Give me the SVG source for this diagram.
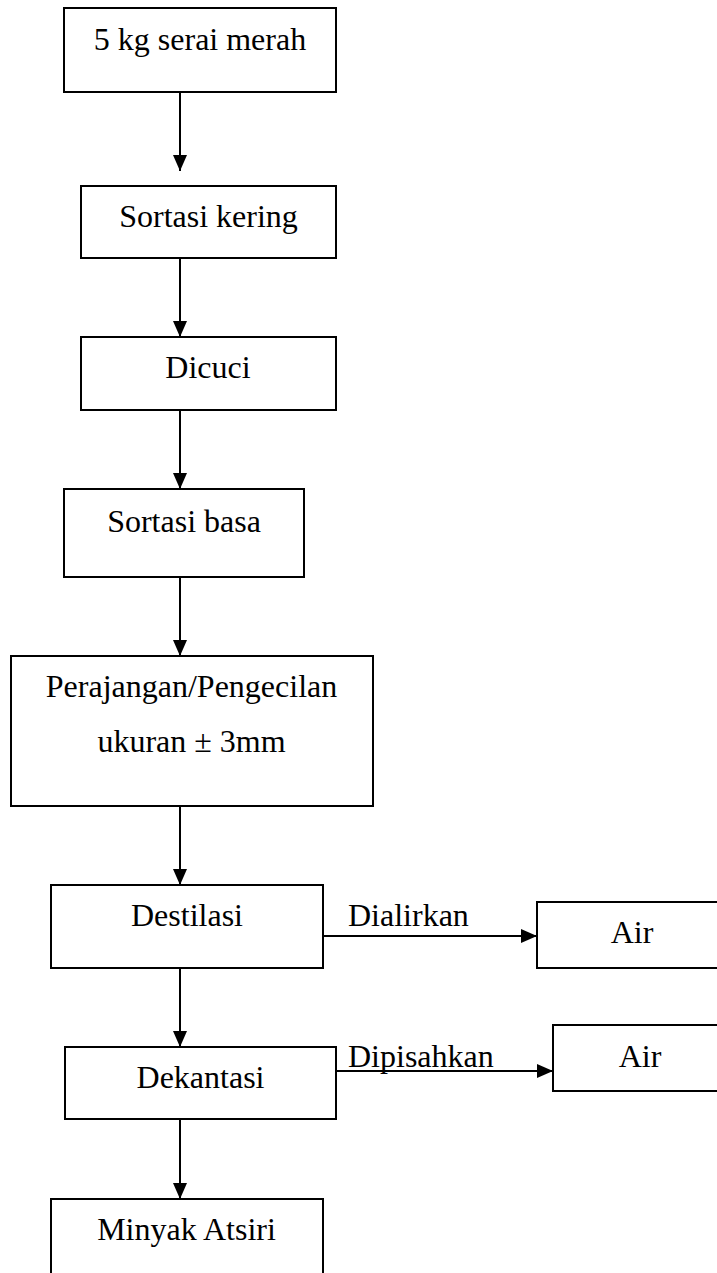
<svg xmlns="http://www.w3.org/2000/svg" width="717" height="1273" viewBox="0 0 717 1273">
  <style>
    .box { fill: #fff; stroke: #000; stroke-width: 2; }
    .lbl { font-family: "Liberation Serif", "Times New Roman", serif; font-size: 32px; fill: #000; }
    .c { text-anchor: middle; }
    .conn { stroke: #000; stroke-width: 2; fill: none; marker-end: url(#arrow); }
  </style>
  <defs>
    <marker id="arrow" markerUnits="userSpaceOnUse" markerWidth="16" markerHeight="16" viewBox="0 0 16 16" refX="16" refY="8" orient="auto">
      <path d="M0,1 L16,8 L0,15 Z" fill="#000"/>
    </marker>
  </defs>
  <rect width="717" height="1273" fill="#fff"/>

  <g id="connectors">
    <line class="conn" x1="180" y1="92" x2="180" y2="171"/>
    <line class="conn" x1="180" y1="258" x2="180" y2="337"/>
    <line class="conn" x1="180" y1="410" x2="180" y2="489"/>
    <line class="conn" x1="180" y1="577" x2="180" y2="656"/>
    <line class="conn" x1="180" y1="806" x2="180" y2="885"/>
    <line class="conn" x1="180" y1="968" x2="180" y2="1047"/>
    <line class="conn" x1="180" y1="1119" x2="180" y2="1199"/>
    <line class="conn" x1="320" y1="936" x2="537" y2="936"/>
    <line class="conn" x1="336" y1="1071" x2="553" y2="1071"/>
    <text class="lbl" x="348" y="926">Dialirkan</text>
    <text class="lbl" x="348" y="1067">Dipisahkan</text>
  </g>

  <g id="n1">
    <rect class="box" x="64" y="8" width="272" height="84"/>
    <text class="lbl c" x="200" y="50">5 kg serai merah</text>
  </g>
  <g id="n2">
    <rect class="box" x="81" y="186" width="255" height="72"/>
    <text class="lbl c" x="208.5" y="227">Sortasi kering</text>
  </g>
  <g id="n3">
    <rect class="box" x="81" y="337" width="255" height="73"/>
    <text class="lbl c" x="208" y="378">Dicuci</text>
  </g>
  <g id="n4">
    <rect class="box" x="64" y="489" width="240" height="88"/>
    <text class="lbl c" x="184" y="532">Sortasi basa</text>
  </g>
  <g id="n5">
    <rect class="box" x="11" y="656" width="362" height="150"/>
    <text class="lbl c" x="191.5" y="697">Perajangan/Pengecilan</text>
    <text class="lbl c" x="191.5" y="752">ukuran ± 3mm</text>
  </g>
  <g id="n6">
    <rect class="box" x="51" y="885" width="272" height="83"/>
    <text class="lbl c" x="187" y="926">Destilasi</text>
  </g>
  <g id="n7">
    <rect class="box" x="537" y="902" width="193" height="66"/>
    <text class="lbl c" x="632" y="943">Air</text>
  </g>
  <g id="n8">
    <rect class="box" x="65" y="1047" width="271" height="72"/>
    <text class="lbl c" x="200.5" y="1088">Dekantasi</text>
  </g>
  <g id="n9">
    <rect class="box" x="553" y="1025" width="177" height="66"/>
    <text class="lbl c" x="640" y="1067">Air</text>
  </g>
  <g id="n10">
    <rect class="box" x="51" y="1199" width="272" height="90"/>
    <text class="lbl c" x="186.5" y="1240">Minyak Atsiri</text>
  </g>
</svg>
